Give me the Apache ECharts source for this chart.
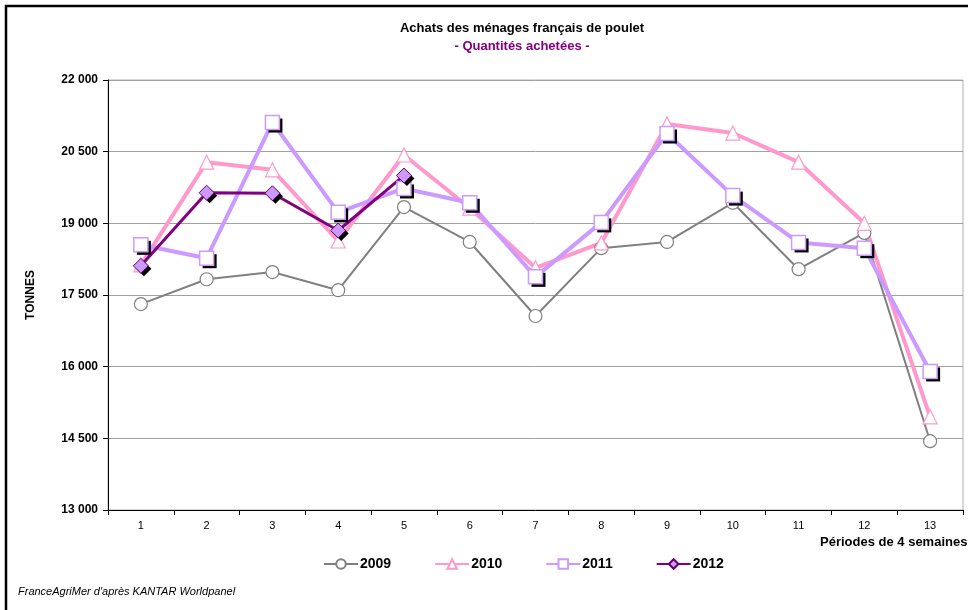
<!DOCTYPE html>
<html>
<head>
<meta charset="utf-8" />
<title>Achats des ménages français de poulet</title>
<script src="https://cdn.jsdelivr.net/npm/echarts@6/dist/echarts.min.js"></script>
<style>
  html, body { margin: 0; padding: 0; background: #fff; }
  #main { width: 968px; height: 610px; }
</style>
</head>
<body>
<div id="main"></div>
<script type="text/javascript">
// périodes de 4 semaines
var periodes = ['1', '2', '3', '4', '5', '6', '7', '8', '9', '10', '11', '12', '13'];
// tonnes achetées
var v2009 = [17310, 17830, 17980, 17600, 19340, 18610, 17060, 18480, 18610, 19430, 18040, 18800, 14440];
var v2010 = [18130, 20280, 20120, 18630, 20430, 19320, 18070, 18590, 21080, 20890, 20280, 19000, 14950];
var v2011 = [18550, 18270, 21110, 19230, 19730, 19430, 17880, 19020, 20880, 19580, 18600, 18480, 15900];
var v2012 = [18110, 19640, 19630, 18850, 20000];
var yTicks = [13000, 14500, 16000, 17500, 19000, 20500, 22000];

var police = 'Liberation Sans, Arial, sans-serif';

function milliers(v) {
  return String(v).replace(/\B(?=(\d{3})+(?!\d))/g, ' ');
}

// ombre portée noire des marqueurs (série sans ligne, décalée)
function ombre(nom, data, symbole, taille) {
  return {
    name: nom + ' ombre', type: 'line', data: data,
    symbol: symbole, symbolSize: taille, symbolOffset: [3, 3],
    lineStyle: { width: 0, opacity: 0 },
    itemStyle: { color: '#000', borderWidth: 0 },
    silent: true
  };
}

var myChart = echarts.init(document.getElementById('main'));

var option = {
  animation: false,
  backgroundColor: '#fff',
  textStyle: { fontFamily: police },
  title: {
    text: 'Achats des ménages français de poulet',
    subtext: '- Quantités achetées -',
    left: 517,
    top: 17,
    textAlign: 'center',
    itemGap: 5,
    textStyle: { fontFamily: police, fontSize: 13, fontWeight: 'bold', color: '#000' },
    subtextStyle: { fontFamily: police, fontSize: 13, fontWeight: 'bold', color: '#800080' }
  },
  grid: { left: 108, right: 5, top: 80, bottom: 100, show: true, borderColor: '#b0b0b0', borderWidth: 1 },
  legend: {
    top: 552,
    left: 318,
    itemGap: 43,
    itemWidth: 34,
    itemHeight: 12,
    textStyle: { fontFamily: police, fontSize: 14, fontWeight: 'bold', color: '#000', padding: [0, 0, 0, -3] },
    data: ['2009', '2010', '2011', '2012']
  },
  xAxis: {
    type: 'category',
    data: periodes,
    boundaryGap: true,
    axisLine: { lineStyle: { color: '#000', width: 1 } },
    axisTick: { show: true, length: 5, lineStyle: { color: '#000' } },
    axisLabel: { fontFamily: police, fontSize: 11, color: '#000', margin: 10 },
    splitLine: { show: false }
  },
  yAxis: {
    type: 'value',
    min: 13000,
    max: 22000,
    interval: 1500,
    name: 'TONNES',
    nameLocation: 'middle',
    nameRotate: 90,
    nameGap: 71,
    nameTextStyle: { fontFamily: police, fontSize: 12, fontWeight: 'bold', color: '#000' },
    axisLine: { show: true, lineStyle: { color: '#000', width: 1 } },
    axisTick: { show: true, length: 5, lineStyle: { color: '#000' } },
    axisLabel: {
      fontFamily: police, fontSize: 12, fontWeight: 'bold', color: '#000', margin: 10,
      formatter: function (v) { return yTicks.indexOf(v) >= 0 ? milliers(v) : ''; }
    },
    splitLine: { show: true, lineStyle: { color: '#a0a0a0', width: 1 } }
  },
  graphic: [
    { type: 'rect', shape: { x: 6, y: 6, width: 1000, height: 700 }, style: { fill: null, stroke: '#000', lineWidth: 2.5 }, silent: true },
    { type: 'text', left: 820, top: 536, style: { text: 'Périodes de 4 semaines', font: 'bold 13px ' + police, fill: '#000' } },
    { type: 'text', left: 18, top: 586, style: { text: "FranceAgriMer d'après KANTAR Worldpanel", font: 'italic 11px ' + police, fill: '#000' } }
  ],
  series: [
    {
      name: '2009', type: 'line', data: v2009,
      symbol: 'circle', symbolSize: 13,
      lineStyle: { color: '#808080', width: 2 },
      itemStyle: { color: '#fff', borderColor: '#808080', borderWidth: 1.2 }
    },
    {
      name: '2010', type: 'line', data: v2010,
      symbol: 'triangle', symbolSize: 14,
      lineStyle: { color: '#ff99cc', width: 4 },
      itemStyle: { color: '#fff', borderColor: '#ff99cc', borderWidth: 1.2 }
    },
    ombre('2011', v2011, 'rect', 14),
    {
      name: '2011', type: 'line', data: v2011,
      symbol: 'rect', symbolSize: 14,
      lineStyle: { color: '#cc99ff', width: 4 },
      itemStyle: { color: '#fff', borderColor: '#cc99ff', borderWidth: 1.5 }
    },
    ombre('2012', v2012, 'diamond', 15),
    {
      name: '2012', type: 'line', data: v2012,
      symbol: 'diamond', symbolSize: 15,
      lineStyle: { color: '#800080', width: 3 },
      itemStyle: { color: '#cc99ff', borderColor: '#660066', borderWidth: 1 }
    }
  ]
};

myChart.setOption(option);
</script>
</body>
</html>
